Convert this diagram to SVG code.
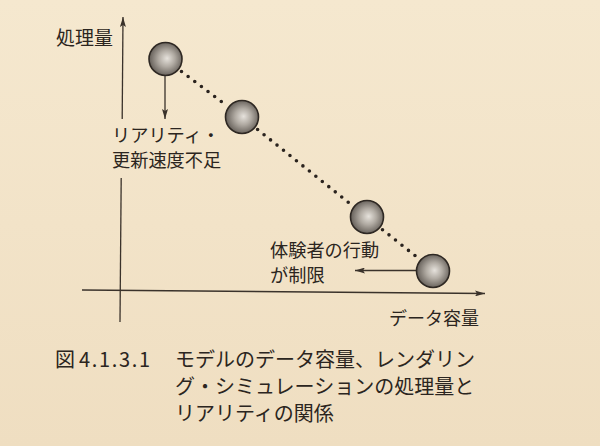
<svg xmlns="http://www.w3.org/2000/svg" width="600" height="446" viewBox="0 0 600 446">
  <style>
    .t { font-family: "Noto Sans CJK JP", "Noto Sans", sans-serif; fill: #2b2520; }
    .lbl { font-size: 19px; }
    .lbl2 { font-size: 18.2px; }
    .cap { font-size: 20px; }
    .ax { stroke: #3a322b; stroke-width: 1.3; fill: none; }
    .dots { stroke: #2a231e; stroke-width: 3.6; stroke-linecap: round; stroke-dasharray: 0 8.3; fill: none; }
    .sph { fill: url(#sg); stroke: #2e2823; stroke-width: 1.6; }
  </style>
  <defs>
    <linearGradient id="bg" x1="0" y1="0" x2="0" y2="1">
      <stop offset="0" stop-color="#f5e8cf"/>
      <stop offset="1" stop-color="#efdec1"/>
    </linearGradient>
    <radialGradient id="sg" cx="0.52" cy="0.5" r="0.55" fx="0.55" fy="0.48">
      <stop offset="0" stop-color="#e6e2dc"/>
      <stop offset="0.45" stop-color="#b0aaa2"/>
      <stop offset="1" stop-color="#5c5650"/>
    </radialGradient>
    <marker id="ah" markerUnits="userSpaceOnUse" markerWidth="10" markerHeight="6" refX="10" refY="3" orient="auto">
      <path d="M0,0 L10,3 L0,6 L2,3 z" fill="#3a322b"/>
    </marker>
  </defs>
  <rect width="600" height="446" fill="url(#bg)"/>

  <g id="connectors">
    <!-- vertical axis (broken by label) -->
    <line class="ax" x1="122.2" y1="119" x2="123" y2="17" marker-end="url(#ah)"/>
    <line class="ax" x1="121.2" y1="178" x2="120" y2="322"/>
    <!-- horizontal axis -->
    <line class="ax" x1="82" y1="290" x2="485" y2="293.5" marker-end="url(#ah)"/>
    <!-- arrows from spheres -->
    <line class="ax" x1="165" y1="76" x2="165" y2="119" marker-end="url(#ah)"/>
    <line class="ax" x1="417" y1="270.5" x2="355" y2="270.5" marker-end="url(#ah)"/>
    <!-- dotted trend -->
    <line class="dots" x1="181.5" y1="71.5" x2="224" y2="103.5"/>
    <line class="dots" x1="257.6" y1="129.5" x2="351" y2="204.5"/>
    <line class="dots" x1="382.5" y1="229.7" x2="418" y2="258"/>
  </g>

  <g id="node-1"><circle class="sph" cx="165.5" cy="59" r="16.5"/></g>
  <g id="node-2"><circle class="sph" cx="242" cy="117" r="16.5"/></g>
  <g id="node-3"><circle class="sph" cx="367" cy="217" r="16.5"/></g>
  <g id="node-4"><circle class="sph" cx="433" cy="271" r="16.5"/></g>

  <g id="label-y"><text class="t lbl" x="56" y="45">処理量</text></g>
  <g id="label-x"><text class="t" style="font-size:18px" x="389" y="325">データ容量</text></g>
  <g id="label-reality">
    <text class="t lbl2" x="112" y="142">リアリティ・</text>
    <text class="t lbl2" x="112" y="166.5">更新速度不足</text>
  </g>
  <g id="label-action">
    <text class="t lbl2" x="270" y="257">体験者の行動</text>
    <text class="t lbl2" x="270" y="281.5">が制限</text>
  </g>

  <g id="caption">
    <text class="t cap" x="55" y="367">図</text>
    <text class="t cap" x="79" y="367" textLength="71" lengthAdjust="spacing">4.1.3.1</text>
    <text class="t cap" x="175" y="367">モデルのデータ容量、レンダリン</text>
    <text class="t cap" x="175" y="394">グ・シミュレーションの処理量と</text>
    <text class="t cap" x="175" y="421">リアリティの関係</text>
  </g>
</svg>
